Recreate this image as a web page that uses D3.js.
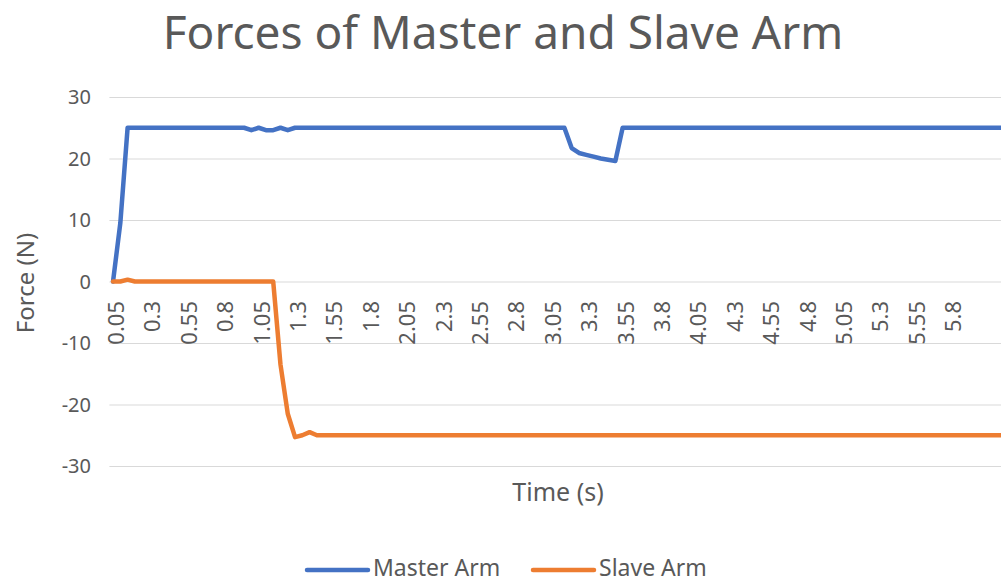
<!DOCTYPE html>
<html>
<head>
<meta charset="utf-8">
<script src="https://cdn.jsdelivr.net/npm/d3@7"></script>
<style>
  body { margin: 0; background: #fff; }
  svg { display: block; font-family: "Segoe UI", "Noto Sans", "Open Sans", sans-serif; }
  .grid line { stroke: #d9d9d9; stroke-width: 1; }
  .grid .domain { display: none; }
  .ylab text { fill: #595959; font-size: 20px; }
  .xlab text { fill: #595959; font-size: 22px; }
  .series { fill: none; stroke-width: 4.5; stroke-linejoin: round; stroke-linecap: round; }
</style>
</head>
<body>
<div id="chart"></div>
<script>
// time (s) for each sample
var times = [
  0.05,0.1,0.15,0.2,0.25,0.3,0.35,0.4,0.45,0.5,
  0.55,0.6,0.65,0.7,0.75,0.8,0.85,0.9,0.95,1,
  1.05,1.1,1.15,1.2,1.25,1.3,1.35,1.4,1.45,1.5,
  1.55,1.6,1.65,1.7,1.75,1.8,1.85,1.9,1.95,2,
  2.05,2.1,2.15,2.2,2.25,2.3,2.35,2.4,2.45,2.5,
  2.55,2.6,2.65,2.7,2.75,2.8,2.85,2.9,2.95,3,
  3.05,3.1,3.15,3.2,3.25,3.3,3.35,3.4,3.45,3.5,
  3.55,3.6,3.65,3.7,3.75,3.8,3.85,3.9,3.95,4,
  4.05,4.1,4.15,4.2,4.25,4.3,4.35,4.4,4.45,4.5,
  4.55,4.6,4.65,4.7,4.75,4.8,4.85,4.9,4.95,5,
  5.05,5.1,5.15,5.2,5.25,5.3,5.35,5.4,5.45,5.5,
  5.55,5.6,5.65,5.7,5.75,5.8,5.85,5.9,5.95,6,
  6.05,6.1,6.15
]

var masterArm = [
  0,9.5,25,25,25,25,25,25,25,25,
  25,25,25,25,25,25,25,25,25,24.6,
  25,24.6,24.6,25,24.6,25,25,25,25,25,
  25,25,25,25,25,25,25,25,25,25,
  25,25,25,25,25,25,25,25,25,25,
  25,25,25,25,25,25,25,25,25,25,
  25,25,25,21.7,20.9,20.6,20.3,20.0,19.8,19.6,
  25,25,25,25,25,25,25,25,25,25,
  25,25,25,25,25,25,25,25,25,25,
  25,25,25,25,25,25,25,25,25,25,
  25,25,25,25,25,25,25,25,25,25,
  25,25,25,25,25,25,25,25,25,25,
  25,25,25
]

var slaveArm = [
  0,0,0.3,0,0,0,0,0,0,0,
  0,0,0,0,0,0,0,0,0,0,
  0,0,0,-13.5,-21.5,-25.3,-25,-24.5,-25,-25,
  -25,-25,-25,-25,-25,-25,-25,-25,-25,-25,
  -25,-25,-25,-25,-25,-25,-25,-25,-25,-25,
  -25,-25,-25,-25,-25,-25,-25,-25,-25,-25,
  -25,-25,-25,-25,-25,-25,-25,-25,-25,-25,
  -25,-25,-25,-25,-25,-25,-25,-25,-25,-25,
  -25,-25,-25,-25,-25,-25,-25,-25,-25,-25,
  -25,-25,-25,-25,-25,-25,-25,-25,-25,-25,
  -25,-25,-25,-25,-25,-25,-25,-25,-25,-25,
  -25,-25,-25,-25,-25,-25,-25,-25,-25,-25,
  -25,-25,-25
]

var xTickLabels = [0.05,0.3,0.55,0.8,1.05,1.3,1.55,1.8,2.05,2.3,2.55,2.8,3.05,3.3,3.55,3.8,4.05,4.3,4.55,4.8,5.05,5.3,5.55,5.8]
var yTicks = [-30,-20,-10,0,10,20,30]

var seriesNames = ["Master Arm", "Slave Arm"]
var seriesColors = ["#4472c4", "#ed7d31"]

var width = 1001, height = 583
var step = 7.28
var left = 109.4

var svg = d3.select("#chart").append("svg")
  .attr("width", width).attr("height", height)

var x = d3.scaleBand()
  .domain(times)
  .range([left, left + step * times.length])

var y = d3.scaleLinear().domain([-30, 30]).range([466, 97])

var cx = function(t) { return x(t) + x.bandwidth() / 2 }

// horizontal gridlines
svg.append("g").attr("class", "grid")
  .attr("transform", "translate(" + left + ",0)")
  .call(d3.axisLeft(y).tickValues(yTicks).tickSize(-(width - left + 20)).tickFormat(""))

// y labels
svg.append("g").attr("class", "ylab")
  .selectAll("text").data(yTicks).enter().append("text")
  .attr("x", 91).attr("y", function(d) { return y(d) })
  .attr("dy", "0.35em").attr("text-anchor", "end")
  .text(function(d) { return d })

// x labels (rotated, sitting under the zero line)
svg.append("g").attr("class", "xlab")
  .selectAll("text").data(xTickLabels).enter().append("text")
  .attr("transform", function(d) { return "translate(" + cx(d) + ",301) rotate(-90)" })
  .attr("dy", "0.5em").attr("text-anchor", "end")
  .text(function(d) { return d })

// lines
var line = d3.line()
  .x(function(d) { return cx(d.t) })
  .y(function(d) { return y(d.v) })

var seriesData = [masterArm, slaveArm].map(function(vals) {
  return vals.map(function(v, i) { return {t: times[i], v: v} })
})

svg.selectAll("path.series").data(seriesData).enter().append("path")
  .attr("class", "series")
  .attr("stroke", function(d, i) { return seriesColors[i] })
  .attr("d", line)

// titles
svg.append("text")
  .attr("x", 503).attr("y", 49)
  .attr("text-anchor", "middle")
  .attr("fill", "#595959").style("font-size", "46px")
  .text("Forces of Master and Slave Arm")

svg.append("text")
  .attr("transform", "translate(34,283) rotate(-90)")
  .attr("text-anchor", "middle")
  .attr("fill", "#595959").style("font-size", "24px")
  .text("Force (N)")

svg.append("text")
  .attr("x", 558).attr("y", 501)
  .attr("text-anchor", "middle")
  .attr("fill", "#595959").style("font-size", "25px")
  .text("Time (s)")

// legend
var legendX = [307, 533]
var legend = svg.selectAll("g.legend").data(seriesNames).enter().append("g")
  .attr("class", "legend")
  .attr("transform", function(d, i) { return "translate(" + legendX[i] + ",570)" })

legend.append("line")
  .attr("x1", 0).attr("x2", 61)
  .attr("stroke", function(d, i) { return seriesColors[i] })
  .attr("stroke-width", 4.5).attr("stroke-linecap", "round")

legend.append("text")
  .attr("x", 66).attr("y", 6)
  .attr("fill", "#595959").style("font-size", "23px")
  .text(function(d) { return d })
</script>
</body>
</html>
